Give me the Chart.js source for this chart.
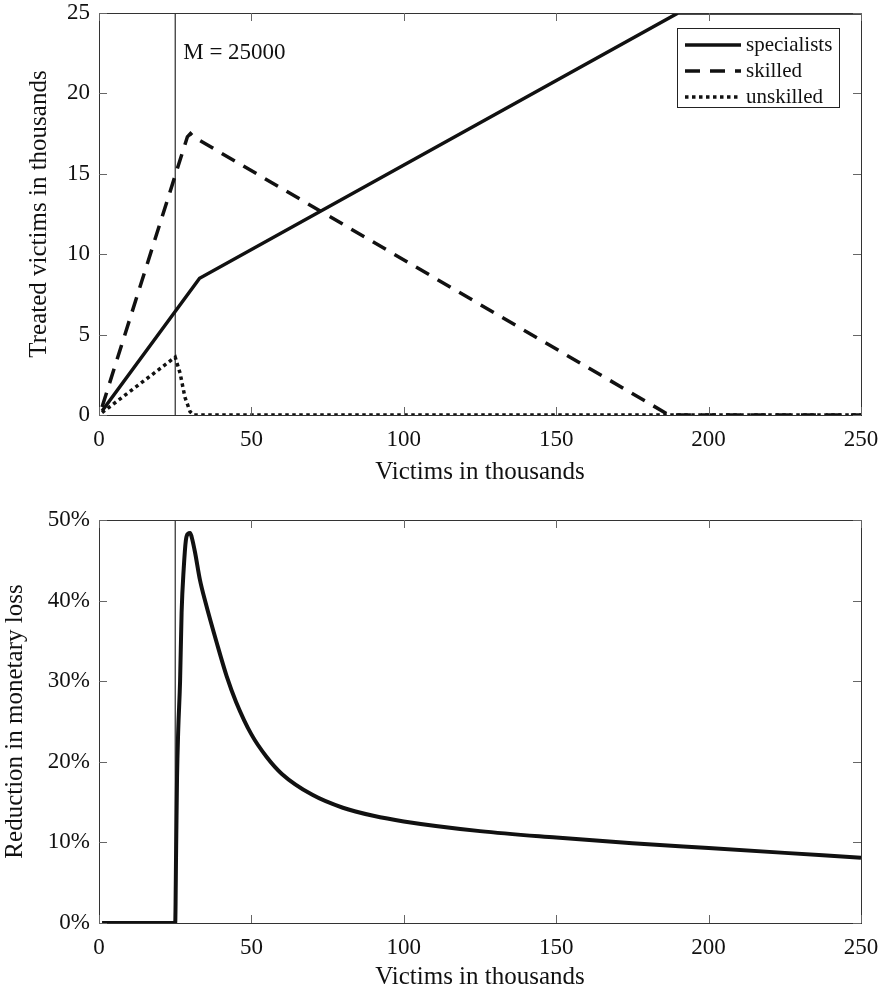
<!DOCTYPE html>
<html>
<head>
<meta charset="utf-8">
<script src="https://cdn.jsdelivr.net/npm/chart.js@4.4.1/dist/chart.umd.min.js"></script>
<style>
  body { margin: 0; background: #fff; }
  .box { position: absolute; left: 0; width: 885px; height: 495px; }
</style>
</head>
<body>
<div class="box" style="top:0"><canvas id="treated" width="885" height="495"></canvas></div>
<div class="box" style="top:495px"><canvas id="reduction" width="885" height="495"></canvas></div>
<script>
// victims in thousands (x) vs treated victims in thousands (y)
const specialistsX = [1, 33, 190, 250];
const specialistsY = [0.25, 8.5, 25, 25];
const skilledX = [1, 29, 30, 31, 187, 250];
const skilledY = [0.5, 17.3, 17.5, 17.3, 0, 0];
const unskilledX = [1, 25, 26.6, 28.2, 29.9, 31, 250];
const unskilledY = [0.15, 3.6, 2.6, 1.1, 0.2, 0, 0];

// reduction in monetary loss (%)
const lossX = [1, 25, 25.3, 25.6, 26, 26.6, 27.1, 27.8, 28.5, 29.2, 29.9, 30.4, 31.5, 33.1, 35, 38.6, 41.9, 45, 50, 55, 60, 70, 80, 90, 100, 125, 150, 175, 200, 225, 250];
const lossY = [0, 0, 9, 18, 24, 30, 38.5, 44, 47.5, 48.3, 48.4, 47.9, 46, 42.6, 39.7, 34.8, 30.6, 27.4, 23.4, 20.6, 18.5, 15.9, 14.3, 13.3, 12.6, 11.4, 10.6, 9.9, 9.3, 8.7, 8.1];

const M = 25;
const xMax = 250;
const treatedMax = 25;
const lossMax = 50;

const serif = '"Liberation Serif", "Times New Roman", serif';
const ink = '#111';

function pts(xs, ys) {
    return xs.map((x, i) => ({ x: x, y: ys[i] }));
}

// box frame with inward ticks, like the original
const framePlugin = {
    id: 'frame',
    afterDatasetsDraw(chart) {
        const { ctx, chartArea: a, scales } = chart;
        ctx.save();
        ctx.strokeStyle = '#333';
        ctx.lineWidth = 1;
        ctx.strokeRect(a.left + 0.5, a.top + 0.5, a.right - a.left, a.bottom - a.top);
        ctx.strokeStyle = '#666';
        ctx.beginPath();
        scales.x.ticks.forEach(t => {
            const px = Math.round(scales.x.getPixelForValue(t.value)) + 0.5;
            ctx.moveTo(px, a.bottom); ctx.lineTo(px, a.bottom - 8);
            ctx.moveTo(px, a.top); ctx.lineTo(px, a.top + 8);
        });
        scales.y.ticks.forEach(t => {
            const py = Math.round(scales.y.getPixelForValue(t.value)) + 0.5;
            ctx.moveTo(a.left, py); ctx.lineTo(a.left + 8, py);
            ctx.moveTo(a.right, py); ctx.lineTo(a.right - 8, py);
        });
        ctx.stroke();
        ctx.restore();
    }
};

// legend box in the top right corner + "M = 25000" label
const boxLegend = {
    id: 'boxLegend',
    afterDraw(chart, args, opts) {
        const { ctx, chartArea: a, scales } = chart;
        if (opts.note) {
            ctx.save();
            ctx.fillStyle = ink;
            ctx.font = '23px ' + serif;
            ctx.textBaseline = 'middle';
            ctx.fillText(opts.note, scales.x.getPixelForValue(M) + 8, a.top + 40);
            ctx.restore();
        }
        if (!opts.show) return;
        const items = chart.data.datasets.filter(d => d.inLegend);
        const w = 162, h = 79;
        const x0 = a.right - 22 - w, y0 = a.top + 15;
        ctx.save();
        ctx.fillStyle = '#fff';
        ctx.fillRect(x0, y0, w, h);
        ctx.strokeStyle = '#222';
        ctx.lineWidth = 1;
        ctx.strokeRect(x0 + 0.5, y0 + 0.5, w, h);
        items.forEach((d, i) => {
            const y = y0 + 17 + i * 26;
            ctx.beginPath();
            ctx.setLineDash(d.borderDash || []);
            ctx.strokeStyle = ink;
            ctx.lineWidth = d.borderWidth;
            ctx.moveTo(x0 + 8, y);
            ctx.lineTo(x0 + 64, y);
            ctx.stroke();
            ctx.setLineDash([]);
            ctx.fillStyle = ink;
            ctx.font = '21px ' + serif;
            ctx.textBaseline = 'middle';
            ctx.fillText(d.label, x0 + 69, y);
        });
        ctx.restore();
    }
};

function axes(yMax, yStep, yFmt, xHeight, xTitlePad, yTitlePad, yTitle) {
    return {
        x: {
            type: 'linear', min: 0, max: xMax,
            grid: { display: false, drawTicks: false },
            border: { display: false },
            ticks: { stepSize: 50, padding: 11, color: ink, maxRotation: 0, font: { family: serif, size: 23 } },
            title: { display: true, text: 'Victims in thousands', color: ink, padding: { top: 0, bottom: xTitlePad }, font: { family: serif, size: 25, lineHeight: 1 } },
            afterFit(s) { s.height = xHeight; s.paddingLeft = 0; s.paddingRight = 0; }
        },
        y: {
            type: 'linear', min: 0, max: yMax,
            grid: { display: false, drawTicks: false },
            border: { display: false },
            ticks: { stepSize: yStep, padding: 9, color: ink, font: { family: serif, size: 23 }, callback: yFmt },
            title: { display: true, text: yTitle, color: ink, padding: { top: yTitlePad, bottom: 0 }, font: { family: serif, size: 25, lineHeight: 1 } },
            afterFit(s) { s.width = 99; s.paddingTop = 0; s.paddingBottom = 0; }
        }
    };
}

const common = {
    responsive: false,
    animation: false,
    events: [],
    plugins: { legend: { display: false }, tooltip: { enabled: false } },
    elements: { point: { radius: 0 } }
};

new Chart(document.getElementById('treated'), {
    type: 'line',
    data: {
        datasets: [
            { label: 'specialists', inLegend: true, data: pts(specialistsX, specialistsY), borderColor: ink, borderWidth: 3.5, tension: 0 },
            { label: 'skilled', inLegend: true, data: pts(skilledX, skilledY), borderColor: ink, borderWidth: 3.5, borderDash: [15, 10], tension: 0 },
            { label: 'unskilled', inLegend: true, data: pts(unskilledX, unskilledY), borderColor: ink, borderWidth: 3.5, borderDash: [3.5, 3.5], tension: 0 },
            { label: 'M', data: [{ x: M, y: 0 }, { x: M, y: treatedMax }], borderColor: '#000', borderWidth: 1 }
        ]
    },
    options: Object.assign({}, common, {
        layout: { padding: { top: 13, right: 24, left: 0, bottom: 0 } },
        scales: axes(treatedMax, 5, v => v, 80, 10.5, 26.5, 'Treated victims in thousands'),
        plugins: Object.assign({}, common.plugins, { boxLegend: { show: true, note: 'M = 25000' } })
    }),
    plugins: [framePlugin, boxLegend]
});

new Chart(document.getElementById('reduction'), {
    type: 'line',
    data: {
        datasets: [
            { label: 'reduction', data: pts(lossX, lossY), borderColor: ink, borderWidth: 4, cubicInterpolationMode: 'monotone' },
            { label: 'M', data: [{ x: M, y: 0 }, { x: M, y: lossMax }], borderColor: '#000', borderWidth: 1 }
        ]
    },
    options: Object.assign({}, common, {
        layout: { padding: { top: 25, right: 24, left: 0, bottom: 0 } },
        scales: axes(lossMax, 10, v => v + '%', 67, 0.5, 2.5, 'Reduction in monetary loss'),
        plugins: Object.assign({}, common.plugins, { boxLegend: { show: false } })
    }),
    plugins: [framePlugin, boxLegend]
});
</script>
</body>
</html>
